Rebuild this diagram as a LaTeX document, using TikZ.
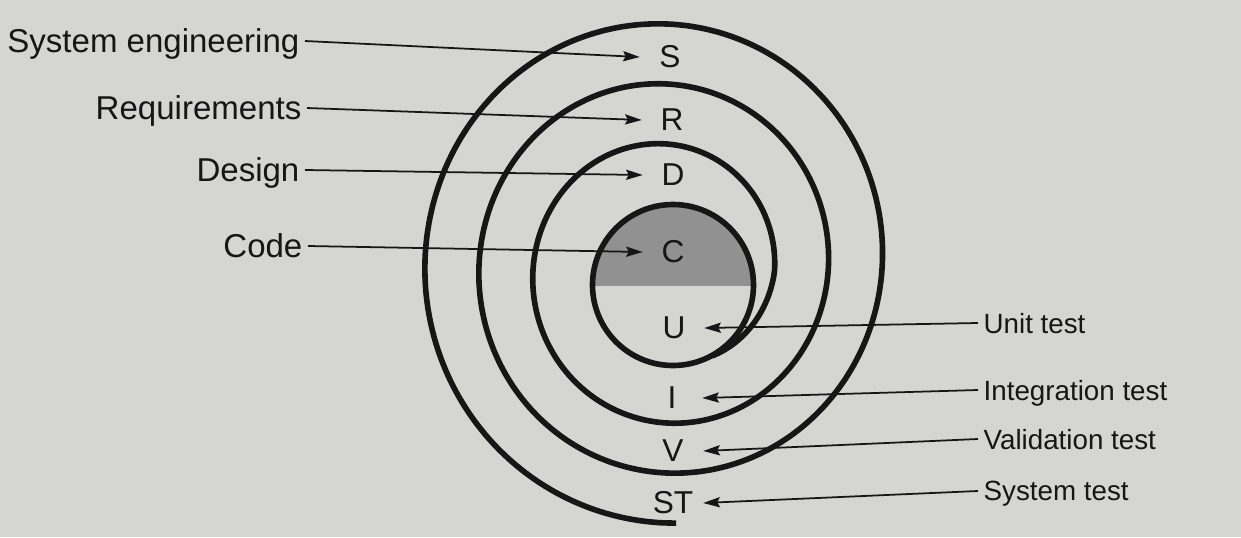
\documentclass[tikz,border=0pt]{standalone}
\usepackage{fontspec}
\setmainfont{Liberation Sans}
\usetikzlibrary{arrows.meta}
\definecolor{paper}{RGB}{213,213,210}
\definecolor{ink}{RGB}{22,22,22}
\definecolor{codegray}{RGB}{145,145,145}

\begin{document}
\begin{tikzpicture}[scale=0.2]
\tikzstyle{every node}+=[inner sep=0pt, text=ink]
\tikzstyle{stage}=[font=\fontsize{18.8}{22}\selectfont, text depth=0pt, inner sep=3pt]
\tikzstyle{test}=[font=\fontsize{15.8}{19}\selectfont, text depth=0pt, inner sep=3pt]
\tikzstyle{letter}=[font=\fontsize{18}{21}\selectfont, minimum width=34pt]
\tikzstyle{pointer}=[ink, line width=1pt, -{Stealth[length=9.5pt,width=5.8pt,inset=1.5pt]}]
\tikzstyle{coil}=[ink, line width=3.2pt]
\fill [paper] (0,0) rectangle (124.1,-53.7);
\useasboundingbox (0,0) rectangle (124.1,-53.7);
\begin{scope}
\clip (58,-28.5) rectangle (77,-19);
\fill [codegray] (67.3,-28.5) circle (8.05);
\end{scope}
\draw [coil] (67.3,-28.5) circle (8.05);
\draw [coil, smooth, variable=\t, domain=-60:992, samples=260] plot ({(667.2+(107.2+0.15*\t+0.14*min(\t,0))*cos(\t))/10}, {-(266-0.01389*(\t-450)-(113.25+0.1528*\t+0.14*min(\t,0))*sin(\t))/10});
\node [stage, anchor=east] (se) at (30.5,-4.1) {System engineering};
\node [stage, anchor=east] (req) at (30.7,-10.8) {Requirements};
\node [stage, anchor=east] (des) at (30.5,-17.0) {Design};
\node [stage, anchor=east] (code) at (30.8,-24.6) {Code};
\node [letter] (lS) at (67.0,-5.7) {S};
\node [letter] (lR) at (67.2,-12.0) {R};
\node [letter] (lD) at (67.3,-17.5) {D};
\node [letter] (lC) at (67.3,-25.2) {C};
\node [letter] (lU) at (67.4,-32.8) {U};
\node [letter] (lI) at (67.2,-39.8) {I};
\node [letter] (lV) at (67.3,-45.1) {V};
\node [letter] (lST) at (67.3,-50.3) {ST};
\node [test, anchor=west] (ut) at (97.8,-32.3) {Unit test};
\node [test, anchor=west] (it) at (97.8,-39.0) {Integration test};
\node [test, anchor=west] (vt) at (97.8,-43.9) {Validation test};
\node [test, anchor=west] (st) at (97.8,-49.1) {System test};
\draw [pointer] (se.east) -- (lS.west);
\draw [pointer] (req.east) -- (lR.west);
\draw [pointer] (des.east) -- (lD.west);
\draw [pointer] (code.east) -- (lC.west);
\draw [pointer] (ut.west) -- (lU.east);
\draw [pointer] (it.west) -- (lI.east);
\draw [pointer] (vt.west) -- (lV.east);
\draw [pointer] (st.west) -- (lST.east);
\end{tikzpicture}
\end{document}
